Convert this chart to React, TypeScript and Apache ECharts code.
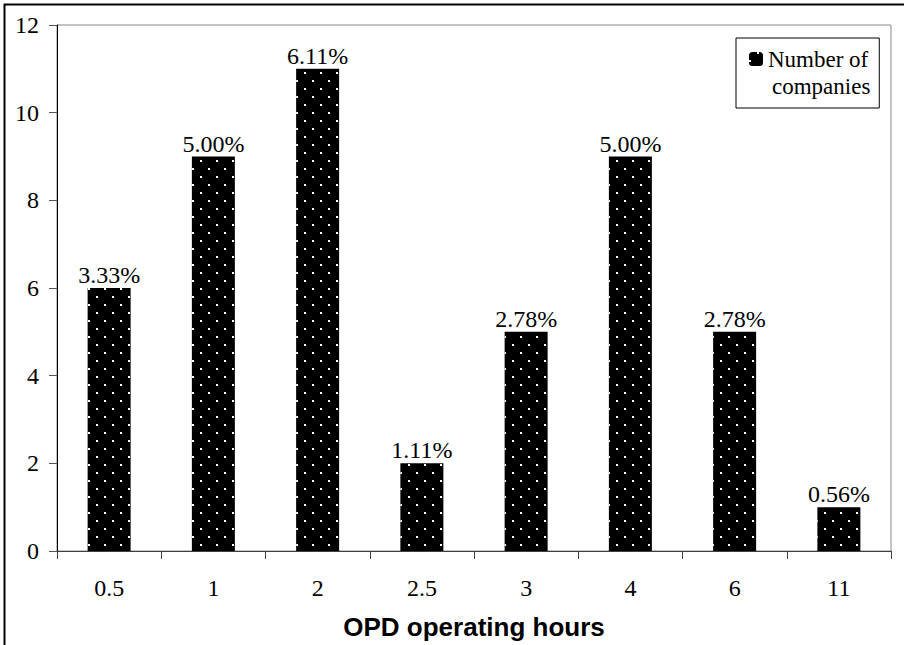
import React, { useEffect, useRef } from "react";
import * as echarts from "echarts";

const categories = ["0.5", "1", "2", "2.5", "3", "4", "6", "11"];
const companies = [6, 9, 11, 2, 5, 9, 5, 1];
const percentLabels = ["3.33%", "5.00%", "6.11%", "1.11%", "2.78%", "5.00%", "2.78%", "0.56%"];
const seriesName = "Number of companies";
const legendLines = ["Number of", "companies"];
const xAxisTitle = "OPD operating hours";

const SERIF = "'Liberation Serif', 'Times New Roman', serif";
const SANS = "'Liberation Sans', Arial, sans-serif";

export default function App() {
  const ref = useRef<HTMLDivElement>(null);

  useEffect(() => {
    if (!ref.current) return;
    const chart = echarts.init(ref.current, null, { renderer: "svg" });
    chart.setOption({
      animation: false,
      backgroundColor: "#fff",
      grid: {
        left: 57,
        right: 13,
        top: 25,
        bottom: 86,
        show: true,
        borderColor: "#888",
        borderWidth: 1,
        backgroundColor: "transparent",
      },
      legend: {
        left: 736,
        top: 38,
        orient: "vertical",
        itemWidth: 14,
        itemHeight: 14,
        itemGap: 5,
        icon: "roundRect",
        padding: [7, 11, 35, 13],
        borderColor: "#000",
        borderWidth: 1,
        selectedMode: false,
        data: [seriesName],
        formatter: () => legendLines[0],
        textStyle: {
          fontFamily: SERIF,
          fontSize: 23,
          lineHeight: 28,
          color: "#000",
        },
      },
      xAxis: {
        type: "category",
        data: categories,
        name: xAxisTitle,
        nameLocation: "middle",
        nameGap: 63,
        nameTextStyle: {
          fontFamily: SANS,
          fontWeight: "bold",
          fontSize: 26,
          color: "#000",
        },
        axisLine: { lineStyle: { color: "#404040", width: 1 } },
        axisTick: { show: true, length: 8, alignWithLabel: false, lineStyle: { color: "#404040" } },
        axisLabel: {
          fontFamily: SERIF,
          fontSize: 24,
          color: "#000",
          margin: 25,
        },
        splitLine: { show: false },
      },
      yAxis: {
        type: "value",
        min: 0,
        max: 12,
        interval: 2,
        axisLine: { show: true, lineStyle: { color: "#000", width: 1 } },
        axisTick: { show: true, length: 8, lineStyle: { color: "#555" } },
        axisLabel: {
          fontFamily: SERIF,
          fontSize: 24,
          color: "#000",
          margin: 18,
        },
        splitLine: { show: false },
      },
      series: [
        {
          name: seriesName,
          type: "bar",
          data: companies,
          barWidth: 43,
          itemStyle: {
            color: "#000",
            decal: {
              symbol: "rect",
              symbolSize: 1,
              color: "#fff",
              dashArrayX: [
                [2, 14],
                [0, 8, 2, 6],
              ],
              dashArrayY: [2, 6],
              rotation: 0,
            },
          },
          label: {
            show: true,
            position: "top",
            distance: 1,
            fontFamily: SERIF,
            fontSize: 24,
            color: "#000",
            formatter: (p: any) => percentLabels[p.dataIndex],
          },
        },
      ],
      graphic: [
        {
          type: "rect",
          silent: true,
          shape: { x: 4.5, y: 4.5, width: 1000, height: 1000 },
          style: { fill: "none", stroke: "#000", lineWidth: 2 },
        },
        {
          type: "text",
          silent: true,
          left: 772,
          top: 75,
          z: 10,
          style: {
            text: legendLines[1],
            fontFamily: SERIF,
            fontSize: 23,
            fill: "#000",
          },
        },
      ],
    });
    return () => chart.dispose();
  }, []);

  return (
    <div
      ref={ref}
      style={{ position: "fixed", left: 0, top: 0, width: 904, height: 645, background: "#fff" }}
    />
  );
}
